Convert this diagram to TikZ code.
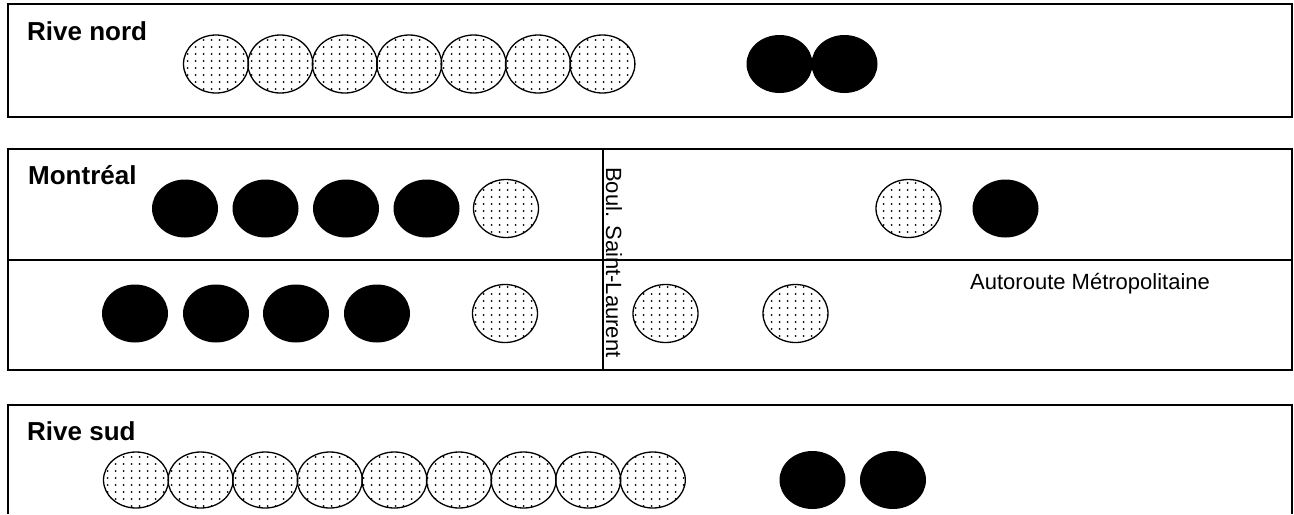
\documentclass[tikz,border=0pt]{standalone}
\usepackage{fontspec}
\setmainfont{Liberation Sans}
\usetikzlibrary{shapes.geometric,patterns.meta}

\tikzdeclarepattern{
  name=sparsedots, type=uncolored,
  bounding box={(0pt,0pt) and (8pt,6.5pt)},
  tile size={(8pt,6.5pt)},
  code={\pgfpathcircle{\pgfpoint{4pt}{3.25pt}}{1.1pt}\pgfusepath{fill}}
}

\begin{document}
\begin{tikzpicture}[
  x=1pt, y=-1pt,
  zone/.style={draw=black, line width=1.8pt},
  divider/.style={draw=black, line width=1.5pt},
  dotcar/.style={ellipse, draw=black, line width=1.3pt, pattern=sparsedots, pattern color=black,
                 minimum width=65pt, minimum height=58pt, inner sep=0pt},
  fullcar/.style={ellipse, fill=black, minimum width=66pt, minimum height=58pt, inner sep=0pt},
  title/.style={font=\fontsize{26}{30}\selectfont\bfseries, anchor=base west, inner sep=0pt},
  road/.style={font=\fontsize{22}{26}\selectfont, inner sep=0pt},
]
\fill[white] (0,0) rectangle (1294,514);

% ---- Rive nord ----
\draw[zone] (8,4) rectangle (1292,117);
\node[title] (nord) at (27,40) {Rive nord};
\foreach \i in {1,...,7}
  \node[dotcar] (nd\i) at (151.6+64.4*\i,64) {};
\node[fullcar] (nb1) at (779.5,64) {};
\node[fullcar] (nb2) at (844.5,64) {};

% ---- Montréal, two roads split by Saint-Laurent ----
\draw[zone] (8,149) rectangle (1292,370);
\draw[divider] (8,260) -- (1292,260);
\draw[divider] (603,149) -- (603,370);
\node[title] (mtl) at (28,184) {Montréal};
\node[road, rotate=-90, anchor=base west] (stlaurent) at (606,167) {Boul. Saint-Laurent};
\node[road, anchor=base west] (metro) at (970,289) {Autoroute Métropolitaine};

\node[fullcar] (ma1) at (185,208.5) {};
\node[fullcar] (ma2) at (265.5,208.5) {};
\node[fullcar] (ma3) at (346,208.5) {};
\node[fullcar] (ma4) at (426.5,208.5) {};
\node[dotcar]  (ma5) at (506,208.5) {};
\node[dotcar]  (ma6) at (908.5,208.5) {};
\node[fullcar] (ma7) at (1005.5,208.5) {};

\node[fullcar] (mb1) at (135,313.5) {};
\node[fullcar] (mb2) at (216,313.5) {};
\node[fullcar] (mb3) at (296,313.5) {};
\node[fullcar] (mb4) at (377,313.5) {};
\node[dotcar]  (mb5) at (505,313.5) {};
\node[dotcar]  (mb6) at (665.5,313.5) {};
\node[dotcar]  (mb7) at (795.5,313.5) {};

% ---- Rive sud (runs off the bottom) ----
\draw[zone] (8,514) -- (8,405) -- (1292,405) -- (1292,514);
\node[title] (sud) at (27,440) {Rive sud};
\foreach \i in {1,...,9}
  \node[dotcar, minimum height=56pt] (sd\i) at (71.4+64.6*\i,480) {};
\node[fullcar] (sb1) at (812.5,480) {};
\node[fullcar] (sb2) at (893,480) {};
\end{tikzpicture}
\end{document}
